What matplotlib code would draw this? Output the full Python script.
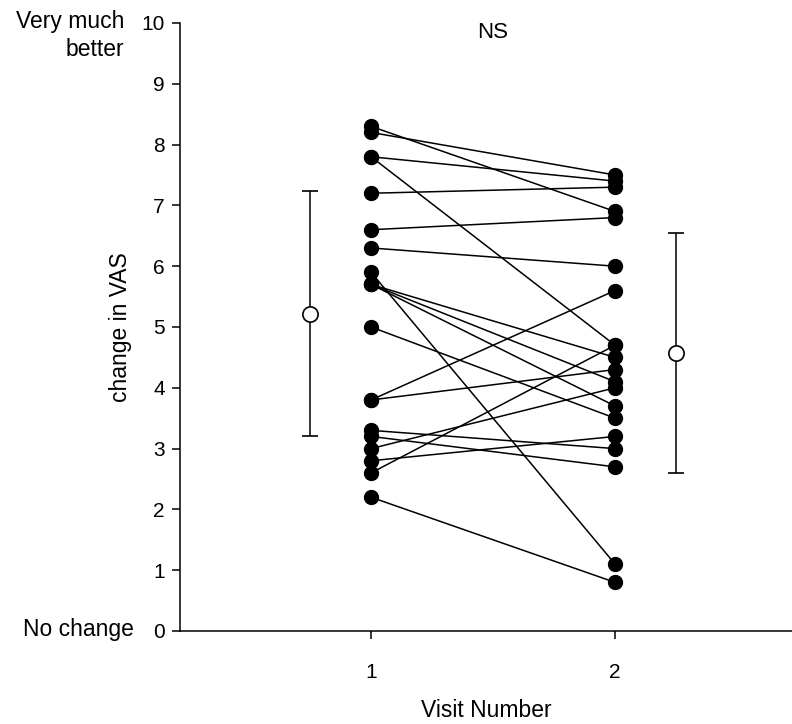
import numpy as np
import matplotlib.pyplot as plt

plt.rcParams['font.family'] = ['Liberation Sans', 'DejaVu Sans']

# change in VAS per subject, visit 1 -> visit 2
visit1 = [8.3, 8.2, 7.8, 7.8, 7.2, 6.6, 6.3, 5.9, 5.7, 5.7, 5.7, 5.0,
          3.8, 3.8, 3.3, 3.2, 3.0, 2.8, 2.6, 2.2]
visit2 = [6.9, 7.5, 7.4, 4.7, 7.3, 6.8, 6.0, 1.1, 4.5, 4.1, 3.7, 3.5,
          5.6, 4.3, 3.0, 2.7, 4.0, 3.2, 4.7, 0.8]
visits = [1, 2]

# group mean and SD as drawn beside each visit
mean_x = [0.75, 2.25]
means = [5.22, 4.57]
sds = [2.02, 1.97]

yticks = list(range(0, 11))
xticks = [1, 2]

fig = plt.figure(figsize=(7.92, 7.24), dpi=100)
ax = fig.add_axes([180 / 792, 93 / 724, 612 / 792, 608 / 724])

for a, b in zip(visit1, visit2):
    ax.plot(visits, [a, b], color='black', lw=1.1, marker='o', ms=10,
            mfc='black', mec='black', zorder=3)

ax.errorbar(mean_x, means, yerr=sds, fmt='o', ms=11, mfc='white', mec='black',
            mew=1.2, ecolor='black', elinewidth=1.1, capsize=6, capthick=1.1, zorder=4)

ax.set_xlim(0.217, 2.725)
ax.set_ylim(0, 10)
ax.set_xticks(xticks)
ax.set_yticks(yticks)
ax.spines['top'].set_visible(False)
ax.spines['right'].set_visible(False)
ax.spines['left'].set_linewidth(1.1)
ax.spines['bottom'].set_linewidth(1.1)
ax.tick_params(direction='out', length=6, width=1.1, labelsize=15, pad=5)
ax.tick_params(axis='x', pad=17)

ax.set_ylabel('change in VAS', fontsize=16.5, labelpad=7)
ax.set_xlabel('Visit Number', fontsize=16.5, labelpad=12)

ax.text(1.5, 9.85, 'NS', fontsize=16, ha='center', va='center')
ax.annotate('Very much', xy=(0, 10), xycoords=('axes fraction', 'data'),
            xytext=(-40, 1), textcoords='offset points', ha='right', va='center',
            fontsize=16.5, annotation_clip=False)
ax.annotate('better', xy=(0, 10), xycoords=('axes fraction', 'data'),
            xytext=(-40, -19), textcoords='offset points', ha='right', va='center',
            fontsize=16.5, annotation_clip=False)
ax.annotate('No change', xy=(0, 0), xycoords=('axes fraction', 'data'),
            xytext=(-33, 1), textcoords='offset points', ha='right', va='center',
            fontsize=16.5, annotation_clip=False)

plt.savefig('out.png', dpi=100)
